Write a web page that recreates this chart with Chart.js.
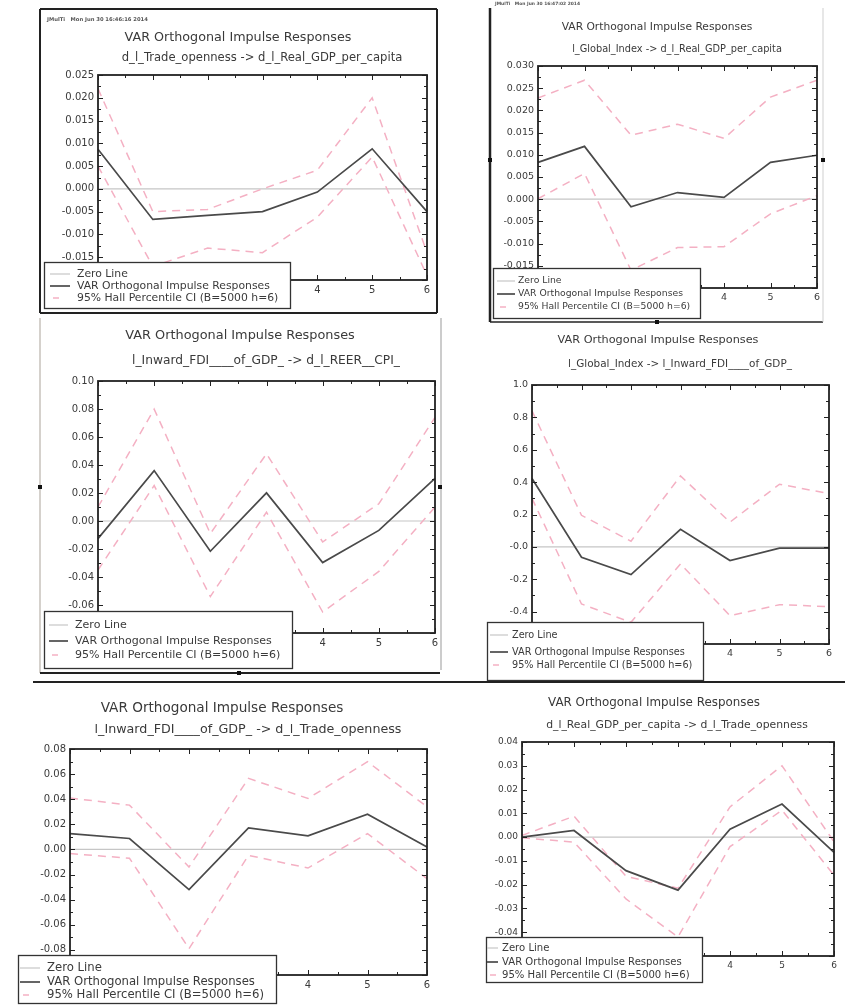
<!DOCTYPE html>
<html>
<head>
<meta charset="utf-8">
<title>VAR Orthogonal Impulse Responses</title>
<script src="https://cdn.jsdelivr.net/npm/chart.js@4.4.1/dist/chart.umd.min.js"></script>
<style>
    html, body { margin: 0; padding: 0; background: #fff; }
    #page { position: relative; width: 862px; height: 1006px; overflow: hidden; background: #fff; }
    #page canvas { position: absolute; left: 0; top: 0; width: 862px; height: 1006px; }
</style>
</head>
<body>
<div id="page">
    <canvas id="p1" width="862" height="1006"></canvas>
    <canvas id="p2" width="862" height="1006"></canvas>
    <canvas id="p3" width="862" height="1006"></canvas>
    <canvas id="p4" width="862" height="1006"></canvas>
    <canvas id="p5" width="862" height="1006"></canvas>
    <canvas id="p6" width="862" height="1006"></canvas>
</div>
<script>
// ===== Data =====

const horizons = ['0', '1', '2', '3', '4', '5', '6'];
const zeroLine = [0, 0, 0, 0, 0, 0, 0];

const panelTitle = 'VAR Orthogonal Impulse Responses';
const legendLabels = ['Zero Line', 'VAR Orthogonal Impulse Responses', '95% Hall Percentile CI (B=5000 h=6)'];

// Panel 1: d_l_Trade_openness -> d_l_Real_GDP_per_capita
const sub1 = 'd_l_Trade_openness -> d_l_Real_GDP_per_capita';
const irf1 = [0.0087, -0.0067, -0.0058, -0.0050, -0.0007, 0.0088, -0.0050];
const upper1 = [0.0220, -0.0050, -0.0045, 0.0000, 0.0041, 0.0200, -0.0140];
const lower1 = [0.0050, -0.0170, -0.0130, -0.0140, -0.0062, 0.0070, -0.0190];
const yLabels1 = ['-0.020', '-0.015', '-0.010', '-0.005', '0.000', '0.005', '0.010', '0.015', '0.020', '0.025'];

// Panel 2: l_Global_Index -> d_l_Real_GDP_per_capita
const sub2 = 'l_Global_Index -> d_l_Real_GDP_per_capita';
const irf2 = [0.0083, 0.0119, -0.0017, 0.0015, 0.0004, 0.0083, 0.0099];
const upper2 = [0.0228, 0.0268, 0.0144, 0.0169, 0.0137, 0.0230, 0.0268];
const lower2 = [0.0001, 0.0058, -0.0160, -0.0109, -0.0107, -0.0033, 0.0008];
const yLabels2 = ['-0.020', '-0.015', '-0.010', '-0.005', '0.000', '0.005', '0.010', '0.015', '0.020', '0.025', '0.030'];

// Panel 3: l_Inward_FDI____of_GDP_ -> d_l_REER__CPI_
const sub3 = 'l_Inward_FDI____of_GDP_ -> d_l_REER__CPI_';
const irf3 = [-0.0126, 0.0360, -0.0216, 0.0201, -0.0297, -0.0067, 0.0305];
const upper3 = [0.0100, 0.0799, -0.0090, 0.0480, -0.0150, 0.0123, 0.0740];
const lower3 = [-0.0350, 0.0253, -0.0540, 0.0063, -0.0650, -0.0360, 0.0100];
const yLabels3 = ['-0.08', '-0.06', '-0.04', '-0.02', '0.00', '0.02', '0.04', '0.06', '0.08', '0.10'];

// Panel 4: l_Global_Index -> l_Inward_FDI____of_GDP_
const sub4 = 'l_Global_Index -> l_Inward_FDI____of_GDP_';
const irf4 = [0.422, -0.064, -0.171, 0.108, -0.084, -0.008, -0.008];
const upper4 = [0.840, 0.195, 0.035, 0.438, 0.153, 0.387, 0.329];
const lower4 = [0.300, -0.353, -0.466, -0.105, -0.425, -0.357, -0.369];
const yLabels4 = ['-0.6', '-0.4', '-0.2', '-0.0', '0.2', '0.4', '0.6', '0.8', '1.0'];

// Panel 5: l_Inward_FDI____of_GDP_ -> d_l_Trade_openness
const sub5 = 'l_Inward_FDI____of_GDP_ -> d_l_Trade_openness';
const irf5 = [0.0126, 0.0087, -0.0320, 0.0172, 0.0108, 0.0280, 0.0020];
const upper5 = [0.0410, 0.0353, -0.0140, 0.0566, 0.0406, 0.0699, 0.0340];
const lower5 = [-0.0033, -0.0070, -0.0790, -0.0047, -0.0148, 0.0126, -0.0233];
const yLabels5 = ['-0.10', '-0.08', '-0.06', '-0.04', '-0.02', '0.00', '0.02', '0.04', '0.06', '0.08'];

// Panel 6: d_l_Real_GDP_per_capita -> d_l_Trade_openness
const sub6 = 'd_l_Real_GDP_per_capita -> d_l_Trade_openness';
const irf6 = [0.0000, 0.0028, -0.0141, -0.0223, 0.0033, 0.0139, -0.0064];
const upper6 = [0.0007, 0.0088, -0.0165, -0.0215, 0.0127, 0.0300, -0.0020];
const lower6 = [-0.0003, -0.0021, -0.0260, -0.0420, -0.0040, 0.0113, -0.0160];
const yLabels6 = ['-0.05', '-0.04', '-0.03', '-0.02', '-0.01', '0.00', '0.01', '0.02', '0.03', '0.04'];

// ===== Styles =====

const FONT = '"DejaVu Sans", sans-serif';
const TEXT = '#3a3a3a';
const DARK = '#4a4a4a';
const PINK = 'rgb(244,176,195)';
const ZERO_COLOR = '#c6c6c6';
const PAGE_W = 862;
const PAGE_H = 1006;
const Y_W = 50;   // fixed y axis width
const X_H = 20;   // fixed x axis height

// font size so that text spans the given width
function fitSize(ctx, text, width) {
    ctx.font = '10px ' + FONT;
    return 10 * width / ctx.measureText(text).width;
}

function line(ctx, x1, y1, x2, y2) {
    ctx.beginPath();
    ctx.moveTo(x1, y1);
    ctx.lineTo(x2, y2);
    ctx.stroke();
}

// Plot frame, inward ticks, titles, legend box and page decorations
const panelPlugin = {
    id: 'panel',
    afterDatasetsDraw(chart, args, opts) {
        const { ctx, chartArea: a, scales: { x, y } } = chart;
        ctx.save();
        ctx.strokeStyle = '#222';
        ctx.lineWidth = 1;

        // x ticks (top and bottom), every half step
        for (let v = 0; v <= horizons.length - 1 + 1e-9; v += 0.5) {
            const px = Math.round(x.getPixelForValue(v)) + 0.5;
            const len = Number.isInteger(v) ? 5 : 3;
            line(ctx, px, a.bottom, px, a.bottom - len);
            line(ctx, px, a.top, px, a.top + len);
        }

        // y ticks (left and right), major and half steps
        const vals = opts.yLabels.map(parseFloat);
        vals.forEach((v, i) => {
            const py = Math.round(y.getPixelForValue(v)) + 0.5;
            line(ctx, a.left, py, a.left + 5, py);
            line(ctx, a.right, py, a.right - 5, py);
            if (i < vals.length - 1) {
                const my = Math.round(y.getPixelForValue((v + vals[i + 1]) / 2)) + 0.5;
                line(ctx, a.left, my, a.left + 3, my);
                line(ctx, a.right, my, a.right - 3, my);
            }
        });

        // plot border
        ctx.lineWidth = 1.8;
        ctx.strokeRect(a.left, a.top, a.right - a.left, a.bottom - a.top);
        ctx.restore();
    },
    afterDraw(chart, args, opts) {
        const ctx = chart.ctx;
        ctx.save();

        // outer frames of the pasted screenshots
        (opts.frames || []).forEach(f => {
            ctx.strokeStyle = f.color;
            ctx.lineWidth = f.width;
            line(ctx, f.x1, f.y1, f.x2, f.y2);
        });
        ctx.fillStyle = '#111';
        (opts.dots || []).forEach(d => {
            ctx.fillRect(d[0] - 2, d[1] - 2, 4, 4);
        });

        // tiny program header
        if (opts.header) {
            const h = opts.header;
            const fs = fitSize(ctx, h.text, h.w);
            ctx.font = 'bold ' + fs + 'px ' + FONT;
            ctx.fillStyle = '#555';
            ctx.textBaseline = 'middle';
            ctx.textAlign = 'left';
            ctx.fillText(h.text, h.x, h.y);
        }

        // title and subtitle
        ctx.textAlign = 'center';
        ctx.textBaseline = 'middle';
        ctx.fillStyle = TEXT;
        let fs = fitSize(ctx, panelTitle, opts.title.w);
        ctx.font = fs + 'px ' + FONT;
        ctx.fillText(panelTitle, opts.title.cx, opts.title.cy);
        fs = fitSize(ctx, opts.subtitle.text, opts.subtitle.w);
        ctx.font = fs + 'px ' + FONT;
        ctx.fillText(opts.subtitle.text, opts.subtitle.cx, opts.subtitle.cy);

        // legend box
        const L = opts.legend;
        ctx.fillStyle = '#fff';
        ctx.fillRect(L.x, L.y, L.w, L.h);
        ctx.strokeStyle = '#333';
        ctx.lineWidth = 1.3;
        ctx.strokeRect(L.x + 0.5, L.y + 0.5, L.w, L.h);

        const seen = new Set();
        const items = chart.data.datasets.filter(ds => {
            if (seen.has(ds.label)) return false;
            seen.add(ds.label);
            return true;
        });
        fs = fitSize(ctx, legendLabels[1], L.tw);
        ctx.font = fs + 'px ' + FONT;
        ctx.textAlign = 'left';
        ctx.textBaseline = 'middle';
        items.forEach((ds, i) => {
            const ry = L.rows[i];
            ctx.strokeStyle = ds.borderColor;
            ctx.lineWidth = ds.borderWidth;
            if (ds.borderDash) {
                ctx.setLineDash([6, 30]);
                ctx.lineDashOffset = -3;
            } else {
                ctx.setLineDash([]);
            }
            line(ctx, L.sx, ry, L.sx + L.sw, ry);
            ctx.setLineDash([]);
            ctx.fillStyle = TEXT;
            ctx.fillText(ds.label, L.tx, ry);
        });

        ctx.restore();
    }
};

function makeDatasets(irf, upper, lower) {
    const base = { pointRadius: 0, tension: 0, fill: false };
    return [
        { ...base, label: legendLabels[0], data: zeroLine, borderColor: ZERO_COLOR, borderWidth: 1.2, order: 3 },
        { ...base, label: legendLabels[1], data: irf, borderColor: DARK, borderWidth: 1.7, order: 1 },
        { ...base, label: legendLabels[2], data: upper, borderColor: PINK, borderWidth: 1.5, borderDash: [8, 6], order: 2 },
        { ...base, label: legendLabels[2], data: lower, borderColor: PINK, borderWidth: 1.5, borderDash: [8, 6], order: 2 }
    ];
}

function buildPanel(id, cfg) {
    const a = cfg.area;
    const yLabels = cfg.yLabels;
    const tickFont = { family: FONT, size: cfg.tickSize };

    return new Chart(document.getElementById(id), {
        type: 'line',
        data: {
            labels: horizons,
            datasets: makeDatasets(cfg.irf, cfg.upper, cfg.lower)
        },
        options: {
            responsive: false,
            animation: false,
            events: [],
            layout: {
                padding: {
                    left: a.l - Y_W,
                    top: a.t,
                    right: PAGE_W - a.r,
                    bottom: PAGE_H - a.b - X_H
                }
            },
            plugins: {
                legend: { display: false },
                tooltip: { enabled: false },
                panel: {
                    yLabels: yLabels,
                    title: cfg.title,
                    subtitle: cfg.subtitle,
                    legend: cfg.legend,
                    frames: cfg.frames,
                    dots: cfg.dots,
                    header: cfg.header
                }
            },
            scales: {
                x: {
                    grid: { display: false, drawTicks: false },
                    border: { display: false },
                    ticks: {
                        padding: 4,
                        color: TEXT,
                        font: tickFont,
                        maxRotation: 0,
                        autoSkip: false
                    },
                    afterFit: s => { s.height = X_H; }
                },
                y: {
                    min: parseFloat(yLabels[0]),
                    max: parseFloat(yLabels[yLabels.length - 1]),
                    grid: { display: false, drawTicks: false },
                    border: { display: false },
                    ticks: {
                        padding: 4,
                        color: TEXT,
                        font: tickFont,
                        callback: (v, i) => yLabels[i]
                    },
                    afterBuildTicks: s => {
                        s.ticks = yLabels.map(l => ({ value: parseFloat(l) }));
                    },
                    afterFit: s => { s.width = Y_W; }
                }
            }
        },
        plugins: [panelPlugin]
    });
}

// ===== Panels =====

buildPanel('p1', {
    irf: irf1, upper: upper1, lower: lower1, yLabels: yLabels1, tickSize: 10,
    area: { l: 98, t: 75, r: 427, b: 280 },
    title: { cx: 238, cy: 38, w: 227 },
    subtitle: { text: sub1, cx: 262, cy: 58, w: 281 },
    legend: { x: 44, y: 262, w: 246, h: 46, rows: [274, 286, 298], sx: 50, sw: 20, tx: 77, tw: 193 },
    header: { text: 'JMulTi   Mon Jun 30 16:46:16 2014', x: 47, y: 20, w: 90 },
    frames: [
        { x1: 40, y1: 9, x2: 437, y2: 9, color: '#222', width: 2 },
        { x1: 437, y1: 9, x2: 437, y2: 313, color: '#222', width: 2 },
        { x1: 40, y1: 313, x2: 437, y2: 313, color: '#222', width: 2 },
        { x1: 40, y1: 9, x2: 40, y2: 313, color: '#222', width: 2 }
    ]
});

buildPanel('p2', {
    irf: irf2, upper: upper2, lower: lower2, yLabels: yLabels2, tickSize: 9.5,
    area: { l: 538, t: 66, r: 817, b: 288 },
    title: { cx: 657, cy: 27, w: 191 },
    subtitle: { text: sub2, cx: 677, cy: 49, w: 210 },
    legend: { x: 493, y: 268, w: 207, h: 50, rows: [281, 294, 307], sx: 497, sw: 18, tx: 518, tw: 165 },
    header: { text: 'JMulTi   Mon Jun 30 16:47:02 2014', x: 495, y: 4, w: 76 },
    frames: [
        { x1: 490, y1: 8, x2: 490, y2: 322, color: '#222', width: 2.5 },
        { x1: 490, y1: 322, x2: 823, y2: 322, color: '#222', width: 1.5 },
        { x1: 823, y1: 8, x2: 823, y2: 322, color: '#cfcfcf', width: 1 }
    ],
    dots: [[490, 160], [823, 160], [657, 322]]
});

buildPanel('p3', {
    irf: irf3, upper: upper3, lower: lower3, yLabels: yLabels3, tickSize: 10,
    area: { l: 98, t: 381, r: 435, b: 633 },
    title: { cx: 240, cy: 336, w: 230 },
    subtitle: { text: sub3, cx: 266, cy: 361, w: 268 },
    legend: { x: 44, y: 611, w: 248, h: 57, rows: [625, 641, 655], sx: 49, sw: 19, tx: 75, tw: 197 },
    frames: [
        { x1: 40, y1: 318, x2: 40, y2: 673, color: '#b9b2aa', width: 1.2 },
        { x1: 441, y1: 318, x2: 441, y2: 670, color: '#aaaaaa', width: 1.2 },
        { x1: 40, y1: 673, x2: 440, y2: 673, color: '#222', width: 2 }
    ],
    dots: [[40, 487], [440, 487], [239, 673]]
});

buildPanel('p4', {
    irf: irf4, upper: upper4, lower: lower4, yLabels: yLabels4, tickSize: 9.5,
    area: { l: 532, t: 385, r: 829, b: 644 },
    title: { cx: 658, cy: 340, w: 201 },
    subtitle: { text: sub4, cx: 680, cy: 364, w: 224 },
    legend: { x: 487, y: 622, w: 216, h: 58, rows: [635, 652, 665], sx: 490, sw: 18, tx: 512, tw: 173 }
});

buildPanel('p5', {
    irf: irf5, upper: upper5, lower: lower5, yLabels: yLabels5, tickSize: 10,
    area: { l: 70, t: 749, r: 427, b: 975 },
    title: { cx: 222, cy: 708, w: 243 },
    subtitle: { text: sub5, cx: 248, cy: 730, w: 307 },
    legend: { x: 18, y: 955, w: 258, h: 48, rows: [968, 982, 995], sx: 20, sw: 20, tx: 47, tw: 208 },
    frames: [
        { x1: 33, y1: 682, x2: 845, y2: 682, color: '#222', width: 1.8 }
    ]
});

buildPanel('p6', {
    irf: irf6, upper: upper6, lower: lower6, yLabels: yLabels6, tickSize: 9,
    area: { l: 522, t: 742, r: 834, b: 956 },
    title: { cx: 654, cy: 703, w: 212 },
    subtitle: { text: sub6, cx: 677, cy: 725, w: 262 },
    legend: { x: 486, y: 937, w: 216, h: 45, rows: [948, 962, 975], sx: 487, sw: 11, tx: 502, tw: 180 }
});
</script>
</body>
</html>
